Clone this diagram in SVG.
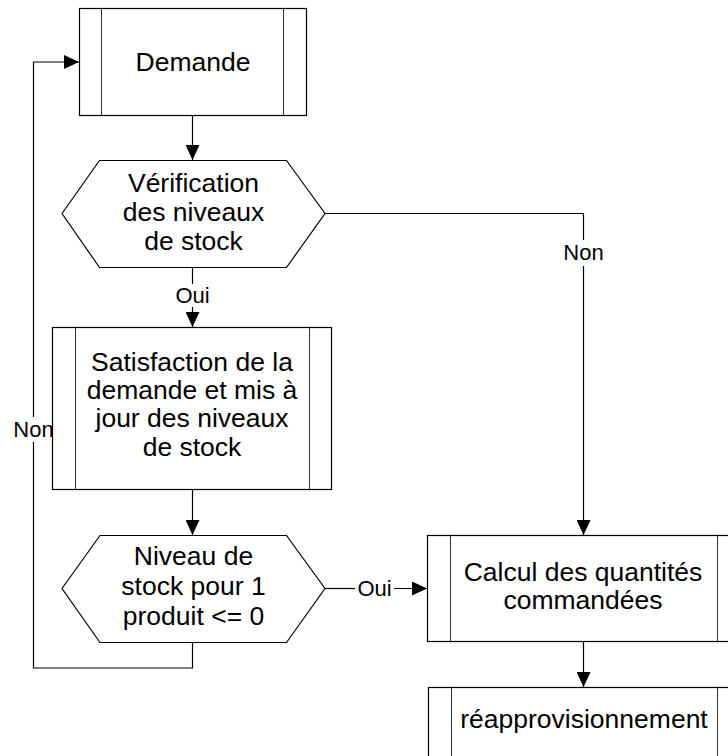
<svg xmlns="http://www.w3.org/2000/svg" width="728" height="756" viewBox="0 0 728 756">
<style>
.box{fill:#fff;stroke:#000;stroke-width:1.2}
.inner{fill:none;stroke:#333;stroke-width:1}
.t{font-family:"Liberation Sans",Arial,sans-serif;font-size:26.5px;fill:#000;text-anchor:middle}
.lbl{font-family:"Liberation Sans",Arial,sans-serif;font-size:22px;fill:#000;text-anchor:middle}
.con{fill:none;stroke:#000;stroke-width:1.2}
</style>
<defs>
<marker id="arr" markerUnits="userSpaceOnUse" markerWidth="15" markerHeight="14" refX="15" refY="7" orient="auto">
<path d="M0,0 L15,7 L0,14 z" fill="#000"/>
</marker>
</defs>
<g id="connectors">
<path class="con" d="M192.5,115 V160" marker-end="url(#arr)"/>
<path class="con" d="M192.5,267 V284"/>
<path class="con" d="M192.5,307 V327" marker-end="url(#arr)"/>
<path class="con" d="M192.5,489 V535" marker-end="url(#arr)"/>
<path class="con" d="M192.5,642 V668 H33.5 V442"/>
<path class="con" d="M33.5,417 V62 H79" marker-end="url(#arr)"/>
<path class="con" d="M325,213.5 H583.5 V240"/>
<path class="con" d="M583.5,266 V535" marker-end="url(#arr)"/>
<path class="con" d="M325,588.5 H355"/>
<path class="con" d="M394,588.5 H427" marker-end="url(#arr)"/>
<path class="con" d="M583.5,641 V687" marker-end="url(#arr)"/>
<text class="lbl" x="192.5" y="303">Oui</text>
<text class="lbl" x="33.5" y="437">Non</text>
<text class="lbl" x="583.5" y="260">Non</text>
<text class="lbl" x="374.5" y="596">Oui</text>
</g>
<g id="demande">
<rect class="box" x="79.5" y="8.5" width="227" height="107"/>
<path class="inner" d="M101.5,8.5 V115.5 M283.5,8.5 V115.5"/>
<text class="t" x="193" y="71">Demande</text>
</g>
<g id="verification">
<polygon class="box" points="62,213.5 99.5,160.5 286.5,160.5 325,213.5 286.5,267.5 99.5,267.5"/>
<text class="t" x="193.5" y="192">Vérification</text>
<text class="t" x="193.5" y="221">des niveaux</text>
<text class="t" x="193.5" y="250">de stock</text>
</g>
<g id="satisfaction">
<rect class="box" x="52.5" y="327.5" width="279" height="162"/>
<path class="inner" d="M75.5,327.5 V489.5 M309.5,327.5 V489.5"/>
<text class="t" x="192" y="371">Satisfaction de la</text>
<text class="t" x="192" y="399">demande et mis à</text>
<text class="t" x="192" y="427">jour des niveaux</text>
<text class="t" x="192" y="456">de stock</text>
</g>
<g id="niveau">
<polygon class="box" points="62,588.5 100,535.5 286.5,535.5 325,588.5 286.5,642.5 100,642.5"/>
<text class="t" x="193.5" y="565">Niveau de</text>
<text class="t" x="193.5" y="595">stock pour 1</text>
<text class="t" x="193.5" y="625">produit &lt;= 0</text>
</g>
<g id="calcul">
<rect class="box" x="427.5" y="535.5" width="312" height="106"/>
<path class="inner" d="M450.5,535.5 V641.5 M717.5,535.5 V641.5"/>
<text class="t" x="583" y="581">Calcul des quantités</text>
<text class="t" x="583" y="609">commandées</text>
</g>
<g id="reappro">
<rect class="box" x="428.5" y="687.5" width="311" height="90"/>
<path class="inner" d="M451.5,687.5 V777.5 M717.5,687.5 V777.5"/>
<text class="t" x="584" y="728">réapprovisionnement</text>
</g>
</svg>
